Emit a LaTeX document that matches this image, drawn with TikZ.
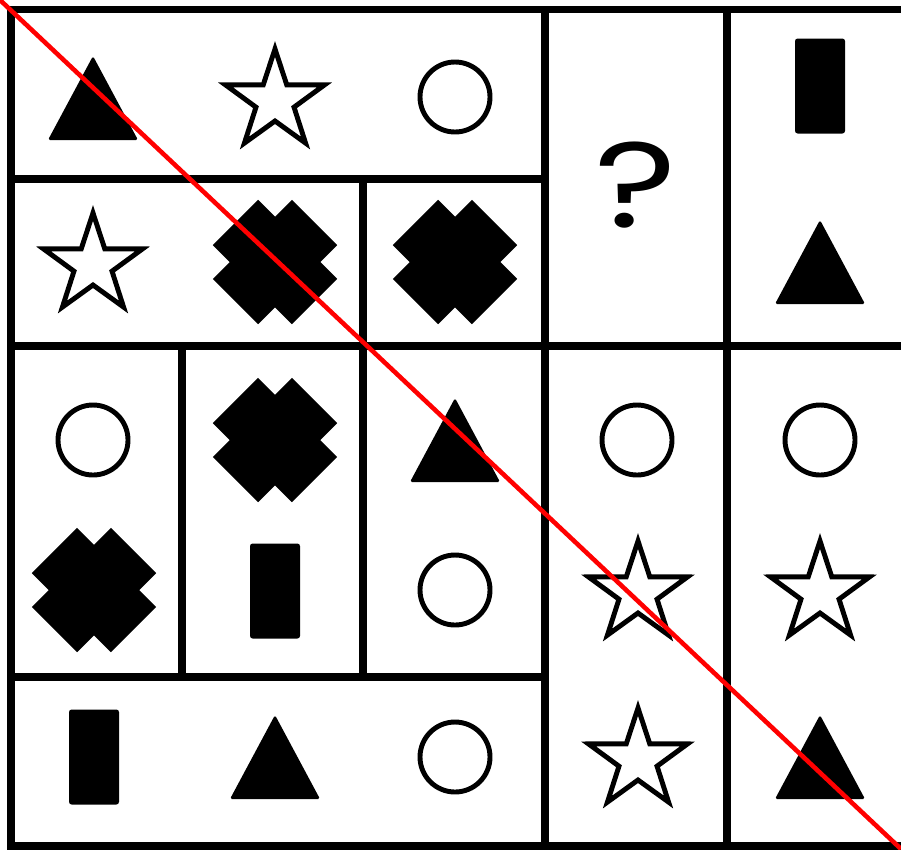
\documentclass[tikz,border=0pt]{standalone}
\usepackage{fontspec}
\newfontfamily\askfont{Poppins}

\begin{document}
\begin{tikzpicture}[
  x=0.02cm, y=-0.02cm,
  grid/.style={line width=4.2pt},
  outline/.style={line width=2.8pt},
  diag/.style={red, line width=2.6pt},
  tri/.pic={\fill[rounded corners=1pt] (-45,42) -- (45,42) -- (0,-42) -- cycle;},
  ring/.pic={\draw[outline] (0,0) circle[radius=35];},
  bar/.pic={\fill[rounded corners=1.5pt] (-25,-47.5) rectangle (25,47.5);},
  cross/.pic={\fill[rotate=45] (-56,-32) rectangle (56,32);
              \fill[rotate=-45] (-56,-32) rectangle (56,32);},
  fivestar/.pic={\draw[outline] (-90:52) -- (-54:20) -- (-18:52) -- (18:20) -- (54:52)
                 -- (90:20) -- (126:52) -- (162:20) -- (198:52) -- (234:20) -- cycle;}
]
\useasboundingbox[fill=white] (0,0) rectangle (901,849);

\draw[grid] (11,9.5) rectangle (912,846);
\draw[grid] (545,9.5) -- (545,846);
\draw[grid] (727,9.5) -- (727,846);
\draw[grid] (11,179) -- (545,179);
\draw[grid] (11,346) -- (912,346);
\draw[grid] (11,677) -- (545,677);
\draw[grid] (363,179) -- (363,677);
\draw[grid] (182,346) -- (182,677);

\pic at (93,98) {tri};
\pic at (275,101) {fivestar};
\pic at (455,97) {ring};

\pic at (93,265) {fivestar};
\pic at (275,262) {cross};
\pic at (455,262) {cross};

\pic at (93,440) {ring};
\pic at (94,590) {cross};
\pic at (275,440) {cross};
\pic at (275,591) {bar};
\pic at (455,440) {tri};
\pic at (455,590) {ring};

\pic at (94,757) {bar};
\pic at (275,757) {tri};
\pic at (455,757) {ring};

\node[font=\askfont\fontsize{69}{69}\selectfont, inner sep=0pt, xscale=1.3] (ask) at (636,185) {?};
\pic at (820,86) {bar};
\pic at (820,262) {tri};

\pic at (637,440) {ring};
\pic at (638,593) {fivestar};
\pic at (638,760) {fivestar};
\pic at (820,440) {ring};
\pic at (820,593) {fivestar};
\pic at (820,757) {tri};

\coordinate (tl) at (0,0);
\coordinate (br) at (901,849);
\draw[diag] (tl) -- (br);
\end{tikzpicture}
\end{document}
